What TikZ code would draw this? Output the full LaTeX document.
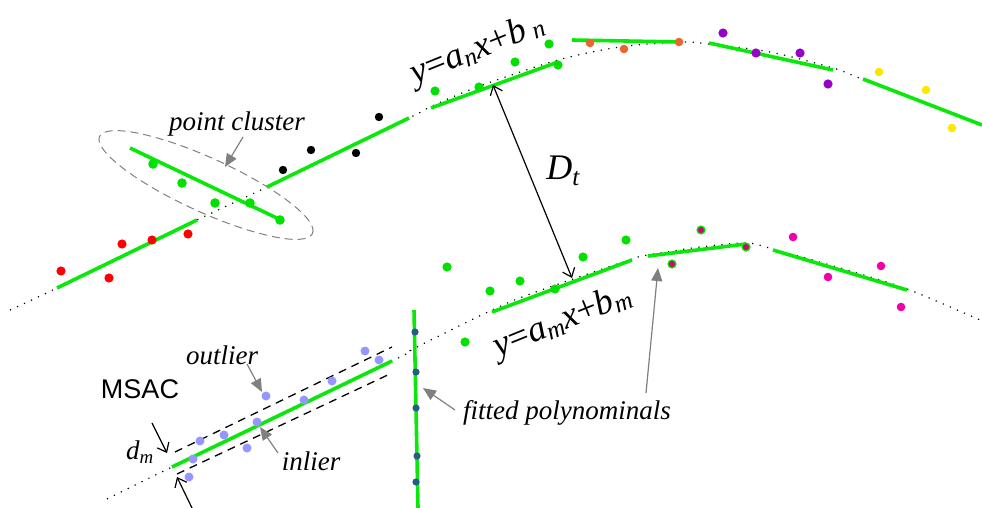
\documentclass[tikz,border=0pt]{standalone}
\usepackage{fontspec}
\setmainfont{Liberation Serif}
\newfontfamily\arialfont{Liberation Sans}
\usetikzlibrary{arrows.meta}
\definecolor{lgreen}{RGB}{10,232,10}
\definecolor{dgreen}{RGB}{0,225,0}
\definecolor{ptred}{RGB}{255,0,0}
\definecolor{ptorange}{RGB}{235,100,50}
\definecolor{ptpurple}{RGB}{150,0,200}
\definecolor{ptyellow}{RGB}{255,230,0}
\definecolor{ptmagenta}{RGB}{240,0,170}
\definecolor{ptpink}{RGB}{215,0,110}
\definecolor{ptblue}{RGB}{150,150,255}
\definecolor{ptdblue}{RGB}{40,90,140}
\definecolor{arrgray}{RGB}{128,128,128}
\begin{document}
\begin{tikzpicture}[x=1pt,y=-1pt,
  seg/.style={draw=lgreen,line width=3.6pt},
  dotcurve/.style={draw=black,line width=1.2pt,dash pattern=on 1.2pt off 6.5pt},
  band/.style={draw=black,line width=1.3pt,dash pattern=on 8pt off 6pt},
  grayarrow/.style={draw=arrgray,line width=1.2pt,-{Triangle[length=13pt,width=11pt]}},
  blackarrow/.style={draw=black,line width=1.2pt,-{Straight Barb[length=8pt,width=13pt]}},
  lbl/.style={font=\fontsize{27}{30}\selectfont\itshape,inner sep=0pt},
  eq/.style={font=\fontsize{36}{40}\selectfont,inner sep=0pt,rotate=22}
]
\useasboundingbox (0,0) rectangle (982,508);

% dotted reference curves
\draw[dotcurve] plot[smooth,tension=0.5] coordinates {(10,310) (57,288) (197,220) (267,187) (409,118) (432,106) (480,86) (558,60) (620,47) (680,42) (709,44) (770,52) (833,68) (862,79) (982,125)};
\draw[dotcurve] plot[smooth,tension=0.5] coordinates {(107,499) (172,467) (392,361) (415,348) (492,310) (533,293) (632,259) (648,255) (700,247) (746,243) (773,249) (840,268) (907,289) (980,320)};

% point cluster ellipse
\draw[draw=arrgray,line width=1pt,dash pattern=on 8pt off 5pt,rotate around={-24.5:(206,185)}] (206,185) ellipse [x radius=117pt, y radius=27pt];

% MSAC band
\draw[band] (175,452) -- (392,347);
\draw[band] (177,474) -- (392,373);

% fitted segments
\draw[seg] (57,288) -- (197,220);
\draw[seg] (130,148) -- (281,220);
\draw[seg] (267,187) -- (409,118);
\draw[seg] (431,108) -- (558,62);
\draw[seg] (572,40) -- (680,42);
\draw[seg] (709,43) -- (833,70);
\draw[seg] (863,79) -- (982,125);
\draw[seg] (172,467) -- (392,361);
\draw[seg] (414,310) -- (418,508);
\draw[seg] (492,312) -- (632,260);
\draw[seg] (648,256) -- (746,244);
\draw[seg] (773,250) -- (907,290);

% points
\foreach \p in {(61,271),(109,278),(122,244),(152,240),(188,234)} \fill[ptred] \p circle (4.6pt);
\foreach \p in {(153,164),(182,183),(215,203),(250,203),(280,220)} \fill[dgreen] \p circle (4.8pt);
\foreach \p in {(283,170),(311,150),(356,153),(379,117)} \fill[black] \p circle (4.2pt);
\foreach \p in {(435,91),(479,87),(515,62),(549,44),(558,65)} \fill[dgreen] \p circle (4.6pt);
\foreach \p in {(590,43),(624,49),(679,42)} \fill[ptorange] \p circle (4.3pt);
\foreach \p in {(723,33),(756,53),(800,53),(828,84)} \fill[ptpurple] \p circle (4.6pt);
\foreach \p in {(879,72),(926,90),(952,128)} \fill[ptyellow] \p circle (4.3pt);
\foreach \p in {(447,267),(490,291),(520,281),(555,289),(583,257),(626,240),(465,342)} \fill[dgreen] \p circle (4.6pt);
\foreach \p in {(672,264),(701,230),(746,247)} {\fill[dgreen] \p circle (4.6pt); \fill[ptpink] \p circle (3pt);}
\foreach \p in {(793,237),(828,277),(881,266),(901,307)} \fill[ptmagenta] \p circle (4.3pt);
\foreach \p in {(200,441),(193,459),(189,477),(224,435),(247,448),(257,422),(266,396),(304,400),(332,381),(365,351),(379,360)} \fill[ptblue] \p circle (4.5pt);
\foreach \p in {(415,332),(416,372),(416,408),(417,456),(416,482)} \fill[ptdblue] \p circle (3.6pt);

% labels
\node[lbl] (cluster) at (237,124) {point cluster};
\node[lbl] (outlier) at (222,355) {outlier};
\node[lbl] (inlier) at (311,461) {inlier};
\node[lbl] (fitted) at (567,413) {fitted polynominals};
\node[inner sep=0pt,font=\arialfont\fontsize{27}{30}\selectfont] (msac) at (140,389) {MSAC};
\node[lbl] (dm) at (140,452) {d\textsubscript{m}};
\node[inner sep=0pt,font=\fontsize{36}{40}\selectfont\itshape] (dt) at (563,171) {D\textsubscript{t}};
\node[eq] (eqn) at (478,50) {\textit{y}=\textit{a}\textsubscript{\textit{n}}\textit{x}+\textit{b}\,\textsubscript{\textit{n}}};
\node[eq] (eqm) at (563,322) {\textit{y}=\textit{a}\textsubscript{\textit{m}}\textit{x}+\textit{b}\textsubscript{\textit{m}}};

% arrow end points
\coordinate (clA) at (243,137); \coordinate (clB) at (225,167);
\coordinate (ouA) at (247,364); \coordinate (ouB) at (262,392);
\coordinate (inA) at (278,453); \coordinate (inB) at (260,427);
\coordinate (f1A) at (455,410); \coordinate (f1B) at (423,388);
\coordinate (f2A) at (646,393); \coordinate (f2B) at (658,268);
\coordinate (dtA) at (493,85); \coordinate (dtB) at (572,278);
\coordinate (d1A) at (152,423); \coordinate (d1B) at (167,453);
\coordinate (d2A) at (192,508); \coordinate (d2B) at (177,477);

\draw[grayarrow] (clA) -- (clB);
\draw[grayarrow] (ouA) -- (ouB);
\draw[grayarrow] (inA) -- (inB);
\draw[grayarrow] (f1A) -- (f1B);
\draw[grayarrow] (f2A) -- (f2B);
\draw[blackarrow,{Straight Barb[length=8pt,width=13pt]}-{Straight Barb[length=8pt,width=13pt]}] (dtA) -- (dtB);
\draw[blackarrow] (d1A) -- (d1B);
\draw[blackarrow] (d2A) -- (d2B);
\end{tikzpicture}
\end{document}
